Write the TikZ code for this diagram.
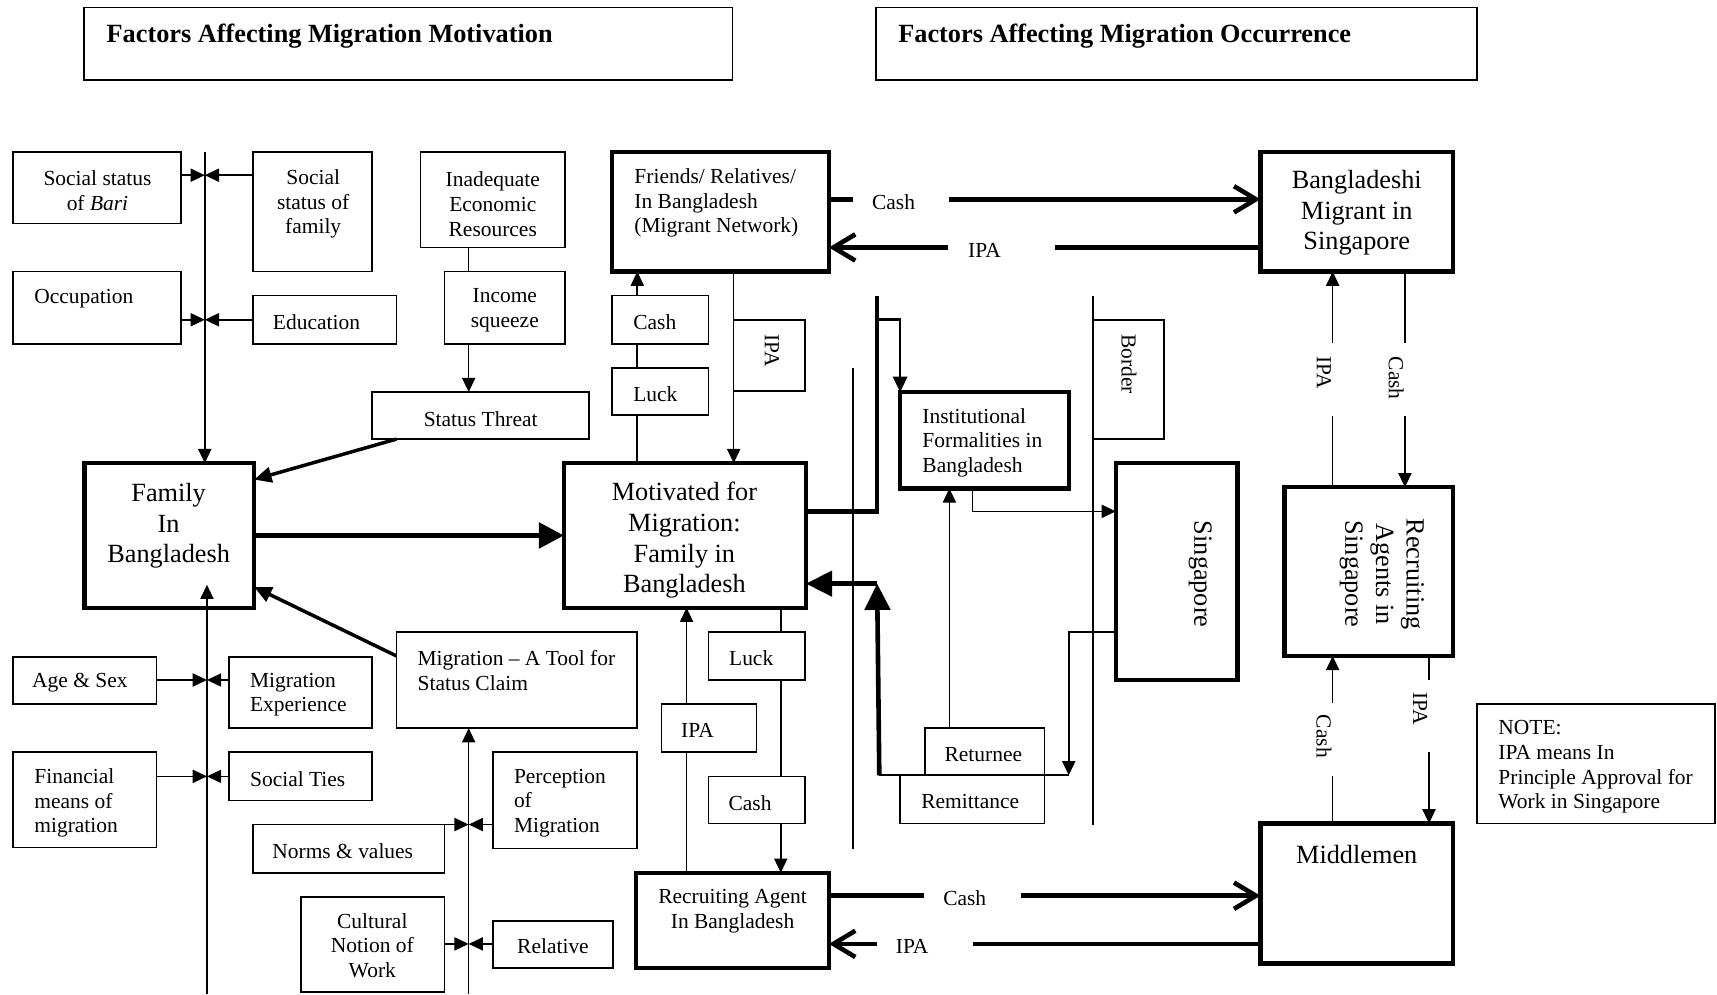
\documentclass[tikz,border=0pt]{standalone}
\usepackage{fontspec}
\setmainfont{Liberation Serif}
\usetikzlibrary{arrows.meta,fit,calc}
\newcommand\mkbox[6][thinbox]{\node[#1,fit={(#3,#4)(#5,#6)}] (#2) {};}
\tikzset{
 thinbox/.style={draw, line width=0.75pt, inner sep=0pt, outer sep=0pt},
 thickbox/.style={draw, line width=2pt, inner sep=0pt, outer sep=0pt},
 tx/.style={inner sep=0pt, yshift=-1.2pt, align=center, font=\fontsize{9.8}{11.25}\selectfont},
 txl/.style={tx, align=left},
 bigtx/.style={inner sep=0pt, yshift=-1.2pt, align=center, font=\fontsize{12}{14}\selectfont},
 ttl/.style={inner sep=0pt, anchor=west, font=\fontsize{12}{14}\selectfont\bfseries},
 ln/.style={line width=0.75pt},
 arr/.style={ln, -{Triangle[length=6.5pt,width=6pt]}},
 medarr/.style={line width=1.2pt, -{Triangle[length=7pt,width=6.5pt]}},
 thk/.style={line width=2.1pt},
 barb/.style={thk, -{Straight Barb[length=10pt,width=12pt]}},
 thkarr/.style={line width=1.6pt, -{Triangle[length=8pt,width=7pt]}},
 famarr/.style={line width=2.4pt, -{Triangle[length=11.5pt,width=11.5pt]}},
 upthk/.style={thk, -{Triangle[length=12pt,width=11.5pt]}},
}
\begin{document}
\begin{tikzpicture}[x=0.5pt,y=-0.5pt]
\useasboundingbox (0,0) rectangle (1568,908);

% titles
\mkbox{t1}{77}{7}{669}{73}
\node[ttl] (t1t) at (97,33) {Factors Affecting Migration Motivation};
\mkbox{t2}{800}{7}{1349}{73}
\node[ttl] (t2t) at (820,33) {Factors Affecting Migration Occurrence};

% left top
\mkbox{bari}{12}{139}{165}{204}
\node[tx] (barit) at (89,172) {Social status\\of \textit{Bari}};
\mkbox{ssf}{231}{139}{340}{248}
\node[tx] (ssft) at (286,184) {Social\\status of\\family};
\mkbox{occ}{12}{248}{165}{314}
\node[tx,anchor=west] (occt) at (31,270) {Occupation};
\mkbox{edu}{231}{270}{362}{314}
\node[tx] (edut) at (289,292) {Education};
\mkbox{ier}{384}{139}{516}{226}
\node[tx] (iert) at (450,184) {Inadequate\\Economic\\Resources};
\mkbox{inc}{406}{248}{516}{314}
\node[tx] (inct) at (461,281) {Income\\squeeze};
\mkbox{st}{340}{358}{538}{401}
\node[tx] (stt) at (439,380) {Status Threat};
\mkbox[thickbox]{fam}{77}{423}{232}{555}
\node[bigtx] (famt) at (154,478) {Family\\In\\Bangladesh};
\mkbox[thickbox]{mot}{515}{423}{736}{555}
\node[bigtx] (mott) at (625,491) {Motivated for\\Migration:\\Family in\\Bangladesh};

% left bottom
\mkbox{age}{12}{600}{143}{643}
\node[tx] (aget) at (73,621) {Age \& Sex};
\mkbox{mexp}{209}{600}{340}{665}
\node[txl,anchor=west] (mexpt) at (228,632) {Migration\\Experience};
\mkbox{fin}{12}{687}{143}{774}
\node[txl,anchor=west] (fint) at (31,731) {Financial\\means of\\migration};
\mkbox{ties}{209}{687}{340}{731}
\node[txl,anchor=west] (tiest) at (228,709) {Social Ties};
\mkbox{tool}{362}{577}{582}{665}
\node[txl,anchor=west] (toolt) at (381,610) {Migration – A Tool for\\Status Claim};
\mkbox{perc}{450}{687}{582}{775}
\node[txl,anchor=west] (perct) at (469,731) {Perception\\of\\Migration};
\mkbox{norms}{231}{753}{406}{797}
\node[tx] (normst) at (313,775) {Norms \& values};
\mkbox{cult}{275}{819}{406}{906}
\node[tx] (cultt) at (340,861) {Cultural\\Notion of\\Work};
\mkbox{rel}{450}{841}{560}{884}
\node[tx] (relt) at (505,862) {Relative};

% middle
\mkbox[thickbox]{fr}{559}{139}{757}{248}
\node[txl,anchor=west] (frt) at (579,183) {Friends/ Relatives/\\In Bangladesh\\(Migrant Network)};
\mkbox{cash1}{559}{270}{647}{314}
\node[tx,anchor=west] (cash1t) at (578,292) {Cash};
\mkbox{luck1}{559}{336}{647}{379}
\node[tx,anchor=west] (luck1t) at (578,358) {Luck};
\mkbox{ipa1}{670}{292}{735}{357}
\node[tx,rotate=-90] (ipa1t) at (705,318) {IPA};
\mkbox[thickbox]{inst}{822}{358}{976}{446}
\node[txl,anchor=west] (instt) at (842,402) {Institutional\\Formalities in\\Bangladesh};
\mkbox{border}{998}{292}{1063}{401}
\node[tx,rotate=-90] (bordert) at (1031,330) {Border};
\mkbox[thickbox]{sg}{1019}{423}{1130}{621}
\node[bigtx,rotate=-90] (sgt) at (1096,522) {Singapore};
\mkbox{luck2}{647}{577}{735}{621}
\node[tx] (luck2t) at (686,599) {Luck};
\mkbox{ipa2}{604}{643}{691}{687}
\node[tx] (ipa2t) at (637,665) {IPA};
\mkbox{cash2}{647}{709}{735}{752}
\node[tx] (cash2t) at (685,731) {Cash};
\mkbox{ret}{845}{665}{954}{708}
\node[tx] (rett) at (898,687) {Returnee};
\mkbox{rem}{822}{708}{954}{752}
\node[tx] (remt) at (886,730) {Remittance};
\mkbox[thickbox]{rab}{581}{797}{757}{884}
\node[tx] (rabt) at (669,830) {Recruiting Agent\\In Bangladesh};

% right
\mkbox[thickbox]{bm}{1151}{139}{1327}{248}
\node[bigtx] (bmt) at (1239,192) {Bangladeshi\\Migrant in\\Singapore};
\mkbox[thickbox]{rasg}{1173}{445}{1327}{599}
\node[bigtx,rotate=-90] (rasgt) at (1262,522) {Recruiting\\Agents in\\Singapore};
\mkbox[thickbox]{mid}{1151}{752}{1327}{880}
\node[bigtx] (midt) at (1239,778) {Middlemen};
\mkbox{note}{1349}{643}{1566}{752}
\node[txl,anchor=west] (notet) at (1368,698) {NOTE:\\IPA means In\\Principle Approval for\\Work in Singapore};

% ---- connectors, left top
\coordinate (vAt) at (187,139);
\coordinate (jA) at (187,160);
\coordinate (jB) at (187,292);
\draw[arr] (vAt) -- (fam.north -| vAt);
\draw[arr] (bari.east |- jA) -- (jA);
\draw[arr] (ssf.west |- jA) -- (jA);
\draw[arr] (occ.east |- jB) -- (jB);
\draw[arr] (edu.west |- jB) -- (jB);
\coordinate (cI) at (428,0);
\draw[ln] (ier.south -| cI) -- (inc.north -| cI);
\draw[arr] (inc.south -| cI) -- (st.north -| cI);
\draw[thkarr] ($(st.south west)+(22,0)$) -- ($(fam.north east)+(0,15)$);
\draw[famarr] (fam.east) -- (mot.west);

% left bottom
\coordinate (vBb) at (189,908);
\coordinate (vBt) at (189,534);
\coordinate (jC) at (189,621);
\coordinate (jD) at (189,709);
\draw[arr] (vBb) -- (vBt);
\draw[arr] (age.east |- jC) -- (jC);
\draw[arr] (mexp.west |- jC) -- (jC);
\draw[arr] (fin.east |- jD) -- (jD);
\draw[arr] (ties.west |- jD) -- (jD);
\draw[thkarr] ($(tool.north west)+(0,22)$) -- ($(fam.south east)+(0,-19)$);
\coordinate (vCb) at (428,908);
\coordinate (jE) at (428,753);
\coordinate (jF) at (428,862);
\draw[arr] (vCb) -- (tool.south -| vCb);
\draw[arr] (norms.north east) -- (jE);
\draw[arr] (perc.west |- jE) -- (jE);
\draw[arr] (cult.east |- jF) -- (jF);
\draw[arr] (rel.west |- jF) -- (jF);

% middle top
\coordinate (c581) at (582,0);
\draw[ln] (mot.north -| c581) -- (luck1.south -| c581);
\draw[ln] (luck1.north -| c581) -- (cash1.south -| c581);
\draw[arr] (cash1.north -| c581) -- (fr.south -| c581);
\coordinate (c670) at (670,0);
\draw[arr] (fr.south -| c670) -- (mot.north -| c670);

\coordinate (h1a) at (779,182); \coordinate (h1b) at (867,182);
\draw[thk] (fr.east |- h1a) -- (h1a);
\draw[barb] (h1b) -- (bm.west |- h1b);
\node[tx] (h1l) at (816,182) {Cash};
\coordinate (h2a) at (866,226); \coordinate (h2b) at (963,226);
\draw[thk] (bm.west |- h2b) -- (h2b);
\draw[barb] (h2a) -- (fr.east |- h2a);
\node[tx] (h2l) at (899,226) {IPA};

\coordinate (k1) at (801,467); \coordinate (k2) at (801,270); \coordinate (k3) at (801,292);
\draw[thk] (mot.east |- k1) -- (k1) -- (k2);
\draw[medarr] (k3) -- (inst.north west |- k3) -- (inst.north west);
\coordinate (m1) at (779,336); \coordinate (m2) at (779,775);
\draw[ln] (m1) -- (m2);
\coordinate (b1) at (998,270); \coordinate (b2) at (998,753);
\draw[ln] (b1) -- (b2);
\coordinate (n1) at (888,467);
\draw[arr] (inst.south -| n1) -- (n1) -- (sg.west |- n1);
\coordinate (n2) at (976,577);
\draw[arr] (sg.west |- n2) -- (n2) -- (n2 |- rem.north);
\coordinate (p1) at (803,708);
\coordinate (p2) at (801,533);
\draw[ln] (p1) -- (n2 |- rem.north);
\draw[upthk] (p1) -- (p2);
\draw[upthk] (p2) -- (mot.east |- p2);
\coordinate (c867) at (867,0);
\draw[arr] (ret.north -| c867) -- (inst.south -| c867);

% middle bottom
\coordinate (c713) at (713,0);
\draw[ln] (mot.south -| c713) -- (luck2.north -| c713);
\draw[ln] (luck2.south -| c713) -- (cash2.north -| c713);
\draw[arr] (cash2.south -| c713) -- (rab.north -| c713);
\coordinate (c626) at (627,0);
\draw[ln] (rab.north -| c626) -- (ipa2.south -| c626);
\draw[arr] (ipa2.north -| c626) -- (mot.south -| c626);

\coordinate (h3a) at (844,818); \coordinate (h3b) at (932,818);
\draw[thk] (rab.east |- h3a) -- (h3a);
\draw[barb] (h3b) -- (mid.west |- h3b);
\node[tx] (h3l) at (881,818) {Cash};
\coordinate (h4a) at (801,862); \coordinate (h4b) at (889,862);
\draw[thk] (mid.west |- h4b) -- (h4b);
\draw[barb] (h4a) -- (rab.east |- h4a);
\node[tx] (h4l) at (833,862) {IPA};

% right verticals
\coordinate (r1a) at (1217,313); \coordinate (r1b) at (1217,380);
\draw[ln] (rasg.north -| r1b) -- (r1b);
\draw[arr] (r1a) -- (bm.south -| r1a);
\node[tx,rotate=-90] (r1l) at (1209,338) {IPA};
\coordinate (r2a) at (1283,313); \coordinate (r2b) at (1283,380);
\draw[ln] (bm.south -| r2a) -- (r2a);
\draw[arr] (r2b) -- (rasg.north -| r2b);
\node[tx,rotate=-90] (r2l) at (1275,343) {Cash};
\coordinate (r3a) at (1217,642); \coordinate (r3b) at (1217,709);
\draw[ln] (mid.north -| r3b) -- (r3b);
\draw[arr] (r3a) -- (rasg.south -| r3a);
\node[tx,rotate=-90] (r3l) at (1209,670) {Cash};
\coordinate (r4a) at (1305,621); \coordinate (r4b) at (1305,687);
\draw[ln] (rasg.south -| r4a) -- (r4a);
\draw[arr] (r4b) -- (mid.north -| r4b);
\node[tx,rotate=-90] (r4l) at (1297,645) {IPA};
\end{tikzpicture}
\end{document}
